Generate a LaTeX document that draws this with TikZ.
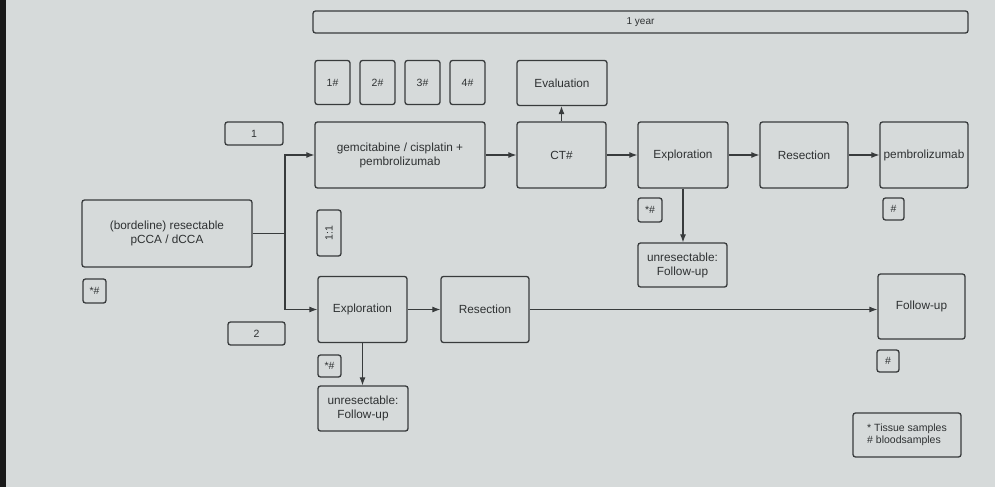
\documentclass[tikz,border=0pt]{standalone}
\usepackage{fontspec}
\setmainfont{Liberation Sans}
\usetikzlibrary{arrows.meta}
\definecolor{bgc}{HTML}{D6DADA}
\definecolor{ln}{HTML}{383B3C}
\definecolor{tx}{HTML}{2E3132}
\tikzset{
  box/.style={draw=ln, line width=1.3pt, rounded corners=2.5pt, inner sep=0pt, align=center, text=tx, font=\fontsize{11.8}{14}\selectfont},
  tag/.style={box, font=\fontsize{10.5}{12.5}\selectfont},
  conn/.style={draw=ln, line width=1.1pt},
  arr/.style={conn, -{Latex[length=8pt,width=6pt]}}
}
\begin{document}
\begin{tikzpicture}[x=1pt,y=-1pt]
\useasboundingbox (0,0) rectangle (995,487);
\fill[bgc] (0,0) rectangle (995,487);
\fill[black!90] (0,0) rectangle (6,487);
% top row
\node[tag, minimum width=655, minimum height=22, font=\fontsize{10}{12}\selectfont] (year) at (640.5,22) {1 year};
\node[tag, minimum width=35, minimum height=44] (s1) at (332.5,82.5) {1\#};
\node[tag, minimum width=35, minimum height=44] (s2) at (377.5,82.5) {2\#};
\node[tag, minimum width=35, minimum height=44] (s3) at (422.5,82.5) {3\#};
\node[tag, minimum width=35, minimum height=44] (s4) at (467.5,82.5) {4\#};
\node[box, minimum width=90, minimum height=45] (eval) at (562,83) {Evaluation};
% arm 1
\node[box, minimum width=170, minimum height=66] (gem) at (400,155) {gemcitabine / cisplatin +\\pembrolizumab};
\node[box, minimum width=89, minimum height=66] (ct) at (561.5,155) {CT\#};
\node[box, minimum width=90, minimum height=66] (exp1) at (683,155) {Exploration};
\node[box, minimum width=88, minimum height=66] (res1) at (804,155) {Resection};
\node[box, minimum width=88, minimum height=66] (pem) at (924,155) {pembrolizumab};
\node[tag, minimum width=24, minimum height=24] (st1) at (650,210) {*\#};
\node[box, minimum width=89, minimum height=44] (unr1) at (682.5,265) {unresectable:\\Follow-up};
\node[tag, minimum width=21, minimum height=22] (hp) at (893.5,209) {\#};
% left
\node[box, minimum width=170, minimum height=67] (main) at (167,233.5) {(bordeline) resectable\\pCCA / dCCA};
\node[tag, minimum width=23, minimum height=24] (stm) at (94.5,291) {*\#};
\node[tag, minimum width=58, minimum height=23] (one) at (254,133.5) {1};
\node[tag, minimum width=57, minimum height=23] (two) at (256.5,333.5) {2};
\node[tag, minimum width=24, minimum height=46] (ratio) at (329,233) {\rotatebox{90}{1:1}};
% arm 2
\node[box, minimum width=89, minimum height=66] (exp2) at (362.5,309.5) {Exploration};
\node[box, minimum width=88, minimum height=66] (res2) at (485,309.5) {Resection};
\node[tag, minimum width=23, minimum height=22] (st2) at (329.5,366) {*\#};
\node[box, minimum width=90, minimum height=45] (unr2) at (363,408.5) {unresectable:\\Follow-up};
\node[box, minimum width=87, minimum height=65] (fu) at (921.5,306.5) {Follow-up};
\node[tag, minimum width=22, minimum height=22] (hf) at (888,361) {\#};
\node[box, minimum width=108, minimum height=44, align=left, font=\fontsize{10.5}{12.5}\selectfont] (leg) at (907,435) {* Tissue samples\\\# bloodsamples};
% connectors
\coordinate (j) at (285,233.5);
\draw[conn] (main.east) -- (j);
\draw[arr] (j) |- (gem.west);
\draw[arr] (j) |- (exp2.west);
\draw[arr] (gem.east) -- (ct.west);
\draw[arr] (ct.north) -- (ct.north |- eval.south);
\draw[arr] (ct.east) -- (exp1.west);
\draw[arr] (exp1.east) -- (res1.west);
\draw[arr] (res1.east) -- (pem.west);
\draw[arr] (exp1.south) -- (exp1.south |- unr1.north);
\draw[arr] (exp2.east) -- (res2.west);
\draw[arr] (exp2.south) -- (exp2.south |- unr2.north);
\draw[arr] (res2.east) -- (res2.east -| fu.west);
\end{tikzpicture}
\end{document}
